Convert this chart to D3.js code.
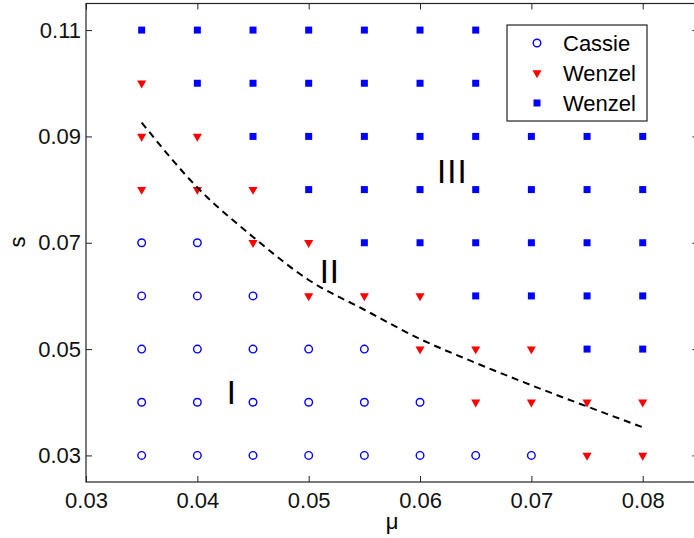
<!DOCTYPE html>
<html>
<head>
<meta charset="utf-8">
<script src="https://cdn.jsdelivr.net/npm/d3@7"></script>
<style>
  body { margin: 0; background: #fff; }
  svg { display: block; font-family: "Liberation Sans", Arial, Helvetica, sans-serif; }
</style>
</head>
<body>
<script>
'use strict';

// grid of simulated (mu, s) pairs
const muValues = [0.035, 0.04, 0.045, 0.05, 0.055, 0.06, 0.065, 0.07, 0.075, 0.08];
const sValues = [0.11, 0.10, 0.09, 0.08, 0.07, 0.06, 0.05, 0.04, 0.03];

// regime per grid point, one string per s row: C = Cassie, T = Wenzel (triangle), S = Wenzel (square)
const regimeRows = [
  "SSSSSSSSSS",
  "TSSSSSSSSS",
  "TTSSSSSSSS",
  "TTTSSSSSSS",
  "CCTTSSSSSS",
  "CCCTTTSSSS",
  "CCCCCTTTSS",
  "CCCCCCTTTT",
  "CCCCCCCCTT"
];

// dashed boundary line
const boundaryMu = [0.035, 0.04, 0.045, 0.05, 0.055, 0.06, 0.065, 0.07, 0.075, 0.08];
const boundaryS = [0.0926, 0.0804, 0.0711, 0.0630, 0.0574, 0.0519, 0.0474, 0.0432, 0.0392, 0.0353];

// region labels
const regionText = ["I", "II", "III"];
const regionMu = [0.0431, 0.0519, 0.0629];
const regionS = [0.0396, 0.0625, 0.0813];

const xTicks = [0.03, 0.04, 0.05, 0.06, 0.07, 0.08];
const yTicks = [0.03, 0.05, 0.07, 0.09, 0.11];
const legendLabels = ["Cassie", "Wenzel", "Wenzel"];
const legendKinds = ["C", "T", "S"];

(function() {

  const width = 694, height = 538;
  const plotLeft = 86, plotRight = 698.4, plotTop = 3.5, plotBottom = 482;

  const svg = d3.select("body").append("svg")
    .attr("width", width)
    .attr("height", height);

  const x = d3.scaleLinear().domain([0.03, 0.085]).range([plotLeft, plotRight]);
  const y = d3.scaleLinear().domain([0.025, 0.115]).range([plotBottom, plotTop]);

  const fmt = d3.format(".2f");

  // axes, ticks pointing inward
  function styleAxis(g) {
    g.selectAll(".domain").remove();
    g.selectAll(".tick line").attr("stroke", "#222");
    g.selectAll(".tick text").attr("fill", "#111").style("font-size", "22px");
  }

  svg.append("g")
    .attr("transform", `translate(0,${plotBottom})`)
    .call(d3.axisBottom(x).tickValues(xTicks).tickFormat(fmt).tickSize(-6).tickSizeOuter(0).tickPadding(10))
    .call(styleAxis);

  svg.append("g")
    .attr("transform", `translate(0,${plotTop})`)
    .call(d3.axisTop(x).tickValues(xTicks).tickFormat("").tickSize(-6).tickSizeOuter(0))
    .call(styleAxis);

  svg.append("g")
    .attr("transform", `translate(${plotLeft},0)`)
    .call(d3.axisLeft(y).tickValues(yTicks).tickFormat(fmt).tickSize(-6).tickSizeOuter(0).tickPadding(5))
    .call(styleAxis);

  svg.append("g")
    .attr("transform", `translate(${plotRight},0)`)
    .call(d3.axisRight(y).tickValues(yTicks).tickFormat("").tickSize(-6).tickSizeOuter(0))
    .call(styleAxis);

  // frame
  svg.append("rect")
    .attr("x", plotLeft).attr("y", plotTop)
    .attr("width", plotRight - plotLeft).attr("height", plotBottom - plotTop)
    .attr("fill", "none")
    .attr("stroke", "#222")
    .attr("stroke-width", 1.2);

  // flatten grid into points
  const points = [];
  sValues.forEach((s, i) => {
    muValues.forEach((mu, j) => {
      points.push({ mu: mu, s: s, kind: regimeRows[i][j] });
    });
  });

  const triangle = d3.symbol().type(d3.symbolTriangle).size(36);
  const square = d3.symbol().type(d3.symbolSquare).size(49);

  function drawMarker(g, kind) {
    if (kind === "C") {
      g.append("circle").attr("r", 3.8)
        .attr("fill", "none").attr("stroke", "#0000ff").attr("stroke-width", 1.4);
    } else if (kind === "T") {
      g.append("path").attr("d", triangle())
        .attr("transform", "rotate(180)")
        .attr("fill", "#ff0000");
    } else {
      g.append("path").attr("d", square()).attr("fill", "#0000ff");
    }
  }

  svg.append("g").selectAll("g")
    .data(points)
    .enter()
    .append("g")
      .attr("transform", (d) => `translate(${x(d.mu)},${y(d.s)})`)
      .each(function(d) { drawMarker(d3.select(this), d.kind); });

  // boundary
  const line = d3.line()
    .x((d) => x(d[0]))
    .y((d) => y(d[1]))
    .curve(d3.curveMonotoneX);

  svg.append("path")
    .datum(boundaryMu.map((m, i) => [m, boundaryS[i]]))
    .attr("d", line)
    .attr("fill", "none")
    .attr("stroke", "#000")
    .attr("stroke-width", 2)
    .attr("stroke-dasharray", "7,5");

  // region labels
  svg.append("g").selectAll("text")
    .data(regionText)
    .enter()
    .append("text")
      .attr("x", (d, i) => x(regionMu[i]))
      .attr("y", (d, i) => y(regionS[i]))
      .attr("text-anchor", "middle")
      .style("font-size", "33px")
      .style("letter-spacing", "1px")
      .text((d) => d);

  // legend
  const legend = svg.append("g");
  legend.append("rect")
    .attr("x", 507).attr("y", 25)
    .attr("width", 140).attr("height", 96)
    .attr("fill", "#fff")
    .attr("stroke", "#222")
    .attr("stroke-width", 1.2);

  legendLabels.forEach((label, i) => {
    const row = legend.append("g").attr("transform", `translate(537,${43 + i * 30})`);
    drawMarker(row, legendKinds[i]);
    legend.append("text")
      .attr("x", 563)
      .attr("y", 43 + i * 30)
      .attr("dy", "0.36em")
      .style("font-size", "22px")
      .text(label);
  });

  // axis titles
  svg.append("text")
    .attr("transform", "translate(25,242)rotate(-90)")
    .attr("text-anchor", "middle")
    .style("font-size", "22px")
    .text("s");

  svg.append("text")
    .attr("x", 392)
    .attr("y", 529)
    .attr("text-anchor", "middle")
    .style("font-size", "22px")
    .text("μ");

})();
</script>
</body>
</html>
